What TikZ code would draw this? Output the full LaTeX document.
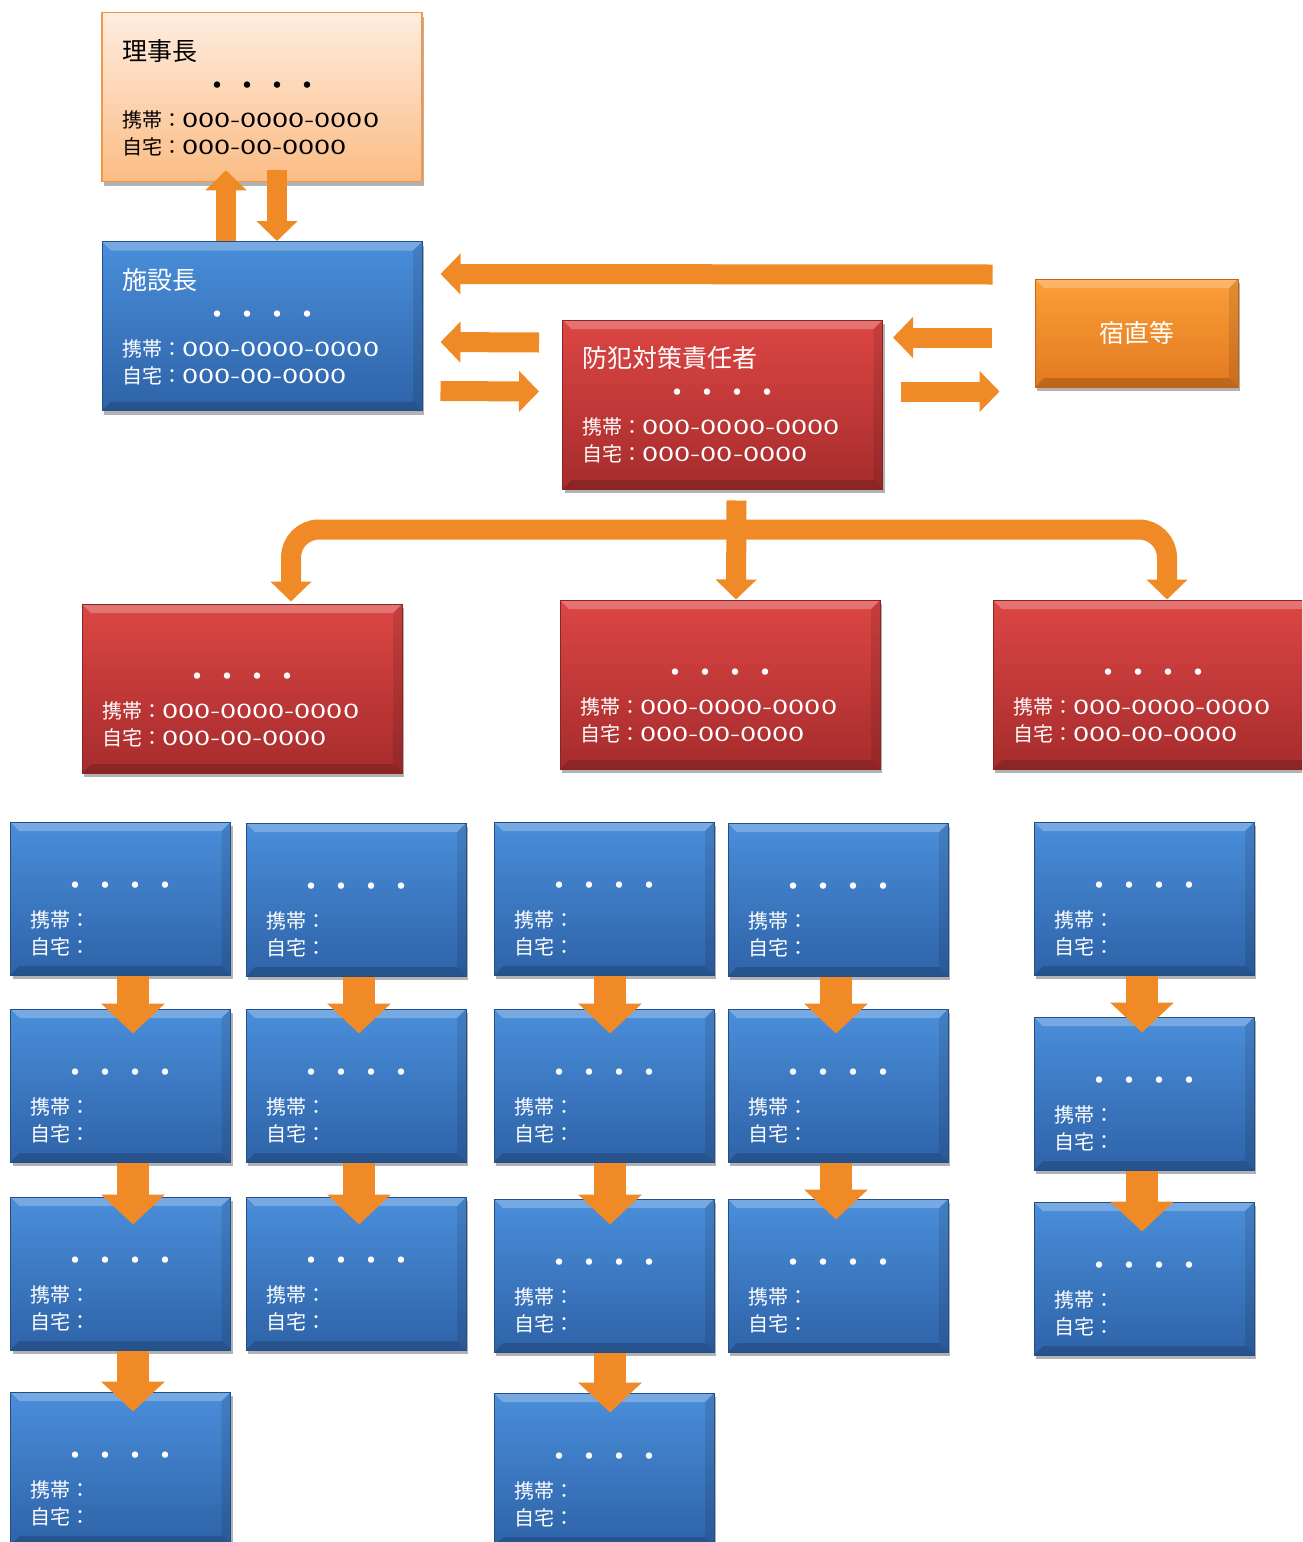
\documentclass[tikz,border=0pt]{standalone}
\usepackage{fontspec}
\setmainfont{Noto Sans CJK JP}
\newfontfamily\telfont[FakeStretch=1.45]{Noto Sans CJK JP}
\usetikzlibrary{arrows.meta,calc,shadows}

\definecolor{chairtop}{RGB}{254,237,224}
\definecolor{chairbot}{RGB}{251,188,132}
\definecolor{chairline}{RGB}{244,150,70}
\definecolor{redtop}{RGB}{220,70,68}
\definecolor{redbot}{RGB}{166,44,44}
\definecolor{redline}{RGB}{140,36,36}
\definecolor{bluetop}{RGB}{74,142,218}
\definecolor{bluebot}{RGB}{46,99,168}
\definecolor{blueline}{RGB}{36,78,136}
\definecolor{dutytop}{RGB}{251,158,56}
\definecolor{dutybot}{RGB}{226,121,32}
\definecolor{dutyline}{RGB}{196,100,28}
\definecolor{arrowfill}{RGB}{240,138,38}

\newcommand{\dotrow}{{\fontsize{30pt}{27pt}\selectfont ・・・・}}
\newcommand{\tel}[1]{{\telfont #1}}
\newcommand{\card}[3]{{\fontsize{25pt}{27pt}\selectfont\mbox{}#1}\\[9pt]\hfill\dotrow\hfill\null\\[4pt]携帯：#2\\自宅：#3}

\tikzset{
  bevel/.style={path picture={
    \fill[white,opacity=0.25] (path picture bounding box.north west) -- (path picture bounding box.north east)
      -- ([shift={(-9pt,-9pt)}]path picture bounding box.north east) -- ([shift={(9pt,-9pt)}]path picture bounding box.north west) -- cycle;
    \fill[black,opacity=0.16] (path picture bounding box.south west) -- (path picture bounding box.south east)
      -- ([shift={(-9pt,9pt)}]path picture bounding box.south east) -- ([shift={(9pt,9pt)}]path picture bounding box.south west) -- cycle;
    \fill[black,opacity=0.1] (path picture bounding box.north east) -- (path picture bounding box.south east)
      -- ([shift={(-9pt,9pt)}]path picture bounding box.south east) -- ([shift={(-9pt,-9pt)}]path picture bounding box.north east) -- cycle;}},
  card/.style={rectangle,inner xsep=20pt,inner ysep=0pt,align=left,line width=1pt,bevel,
    font={\fontsize{20pt}{27pt}\selectfont\lineskiplimit=-100pt\relax},
    drop shadow={shadow xshift=2pt,shadow yshift=-4pt,opacity=0.3,fill=black}},
  bigcard/.style={card,text width=280pt,text height=47.5pt,text depth=121.5pt},
  chairbox/.style={bigcard,top color=chairtop,bottom color=chairbot,draw=chairline,line width=1.5pt,text=black,path picture={}},
  redbox/.style={bigcard,top color=redtop,bottom color=redbot,draw=redline,text=white},
  bluebox/.style={bigcard,top color=bluetop,bottom color=bluebot,draw=blueline,text=white},
  staffbox/.style={card,text width=180pt,text height=38.6pt,text depth=114.4pt,
    top color=bluetop,bottom color=bluebot,draw=blueline,text=white},
  dutybox/.style={rectangle,minimum width=203pt,minimum height=108pt,line width=1pt,bevel,
    top color=dutytop,bottom color=dutybot,draw=dutyline,text=white,
    font={\fontsize{25pt}{27pt}\selectfont},
    drop shadow={shadow xshift=2pt,shadow yshift=-4pt,opacity=0.3,fill=black}},
  link/.style={draw=arrowfill,line width=20pt,-{Triangle[length=20pt,width=40pt]}},
  flow/.style={draw=arrowfill,line width=32pt,-{Triangle[length=30pt,width=62pt]}}
}

\begin{document}
\begin{tikzpicture}[x=1pt,y=-1pt]
  \useasboundingbox (0,0) rectangle (1302,1542);
  \clip (0,0) rectangle (1302,1542);
  \fill[white] (0,0) rectangle (1302,1542);

  \node[chairbox] (chair) at (262,97) {\card{理事長}{\tel{000-0000-0000}}{\tel{000-00-0000}}};
  \node[bluebox] (head) at (262,326) {\card{施設長}{\tel{000-0000-0000}}{\tel{000-00-0000}}};
  \node[redbox] (officer) at (722.5,404.5) {\card{防犯対策責任者}{\tel{000-0000-0000}}{\tel{000-00-0000}}};
  \node[dutybox] (duty) at (1136.5,333) {宿直等};

  \node[redbox] (lead1) at (242,688.5) {\card{}{\tel{000-0000-0000}}{\tel{000-00-0000}}};
  \node[redbox] (lead2) at (720,684.5) {\card{}{\tel{000-0000-0000}}{\tel{000-00-0000}}};
  \node[redbox] (lead3) at (1153,684.5) {\card{}{\tel{000-0000-0000}}{\tel{000-00-0000}}};

  \node[staffbox] (a1) at (120.5,898.5) {\card{}{}{}};
  \node[staffbox] (a2) at (120.5,1085.5) {\card{}{}{}};
  \node[staffbox] (a3) at (120.5,1273.5) {\card{}{}{}};
  \node[staffbox] (a4) at (120.5,1468.5) {\card{}{}{}};
  \node[staffbox] (b1) at (356,899.5) {\card{}{}{}};
  \node[staffbox] (b2) at (356,1085.5) {\card{}{}{}};
  \node[staffbox] (b3) at (356,1273.5) {\card{}{}{}};
  \node[staffbox] (c1) at (604,898.5) {\card{}{}{}};
  \node[staffbox] (c2) at (604,1085.5) {\card{}{}{}};
  \node[staffbox] (c3) at (604,1275.5) {\card{}{}{}};
  \node[staffbox] (c4) at (604,1469.5) {\card{}{}{}};
  \node[staffbox] (d1) at (838,899.5) {\card{}{}{}};
  \node[staffbox] (d2) at (838,1085.5) {\card{}{}{}};
  \node[staffbox] (d3) at (838,1275.5) {\card{}{}{}};
  \node[staffbox] (e1) at (1144,898.5) {\card{}{}{}};
  \node[staffbox] (e2) at (1144,1093.5) {\card{}{}{}};
  \node[staffbox] (e3) at (1144,1278.5) {\card{}{}{}};

  \draw[link] ($(head.north)+(-36,0)$) -- ($(chair.south)+(-36,-12)$);
  \draw[link] ($(chair.south)+(15,-12)$) -- ($(head.north)+(15,0)$);

  \draw[link] ($(duty.north west)+(-42,-4)$) -- ($(head.north east)+(18,33)$);
  \draw[link] ($(officer.north west)+(-23,23)$) -- ($(head.north east)+(18,101)$);
  \draw[link] ($(head.north east)+(18,150)$) -- ($(officer.north west)+(-23,72)$);
  \draw[link] ($(duty.north west)+(-43,59)$) -- ($(officer.north east)+(10,18)$);
  \draw[link] ($(officer.north east)+(18,72)$) -- ($(duty.north west)+(-35,113)$);

  \coordinate (fork) at ($(officer.south)+(14,40)$);
  \draw[link,rounded corners=28pt] (fork) -| ($(lead1.north)+(49,-2)$);
  \draw[link,rounded corners=28pt] (fork) -| ($(lead3.north)+(14,0)$);
  \draw[link] ($(officer.south)+(14,11)$) -- ($(lead2.north)+(16,0)$);

  \draw[flow] ($(a1.south)+(12.5,0)$) -- ($(a2.north)+(12.5,25)$);
  \draw[flow] ($(a2.south)+(12.5,0)$) -- ($(a3.north)+(12.5,28)$);
  \draw[flow] ($(a3.south)+(12.5,0)$) -- ($(a4.north)+(12.5,20)$);
  \draw[flow] ($(b1.south)+(3,0)$) -- ($(b2.north)+(3,25)$);
  \draw[flow] ($(b2.south)+(3,0)$) -- ($(b3.north)+(3,28)$);
  \draw[flow] ($(c1.south)+(6,0)$) -- ($(c2.north)+(6,25)$);
  \draw[flow] ($(c2.south)+(6,0)$) -- ($(c3.north)+(6,26)$);
  \draw[flow] ($(c3.south)+(6,0)$) -- ($(c4.north)+(6,20)$);
  \draw[flow] ($(d1.south)+(-2,0)$) -- ($(d2.north)+(-2,25)$);
  \draw[flow] ($(d2.south)+(-2,0)$) -- ($(d3.north)+(-2,21)$);
  \draw[flow] ($(e1.south)+(-2,0)$) -- ($(e2.north)+(-2,16)$);
  \draw[flow] ($(e2.south)+(-2,0)$) -- ($(e3.north)+(-2,30)$);
\end{tikzpicture}
\end{document}
